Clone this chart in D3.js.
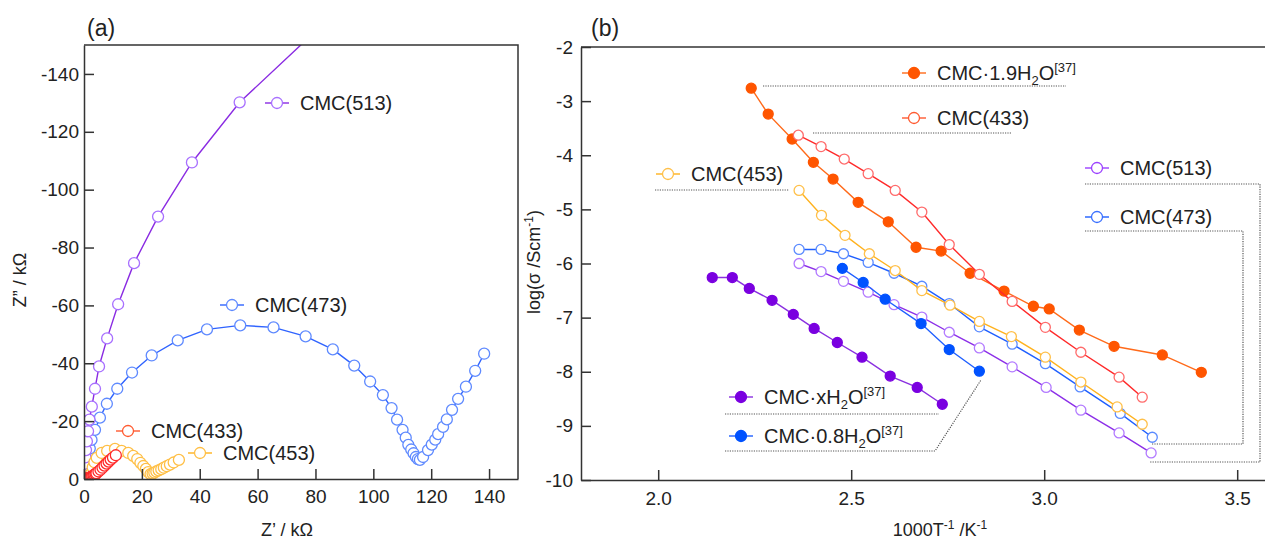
<!DOCTYPE html>
<html>
<head>
<meta charset="utf-8">
<script src="https://cdn.jsdelivr.net/npm/d3@7"></script>
<style>
  body { margin: 0; background: #fff; }
  text { font-family: "Liberation Sans", Arial, sans-serif; fill: #222; }
  .axis path, .axis line { stroke: #333; stroke-width: 1.5; }
  .axis text { font-size: 19px; fill: #222; }
</style>
</head>
<body>
<div id="chart"></div>
<script>
// ---- panel (a) : Nyquist plots, Z' and Z'' in kOhm ----
var zRe513 = [0.6, 0.4, 0.3, 0.3, 0.4, 0.5, 0.7, 1.0, 1.4, 1.9, 2.7, 3.8, 5.2, 8.0, 11.8, 17.3, 25.6, 37.3, 53.8, 77.6];
var zIm513 = [-0.3, -0.9, -2.0, -3.5, -5.3, -7.5, -10.0, -13.0, -16.5, -20.5, -25.0, -31.2, -38.9, -48.6, -60.4, -74.6, -90.7, -109.4, -130.2, -152.5];

var zRe473 = [1.0, 0.9, 1.0, 1.2, 1.5, 2.0, 2.6, 3.8, 5.5, 7.9, 11.5, 16.6, 23.4, 32.4, 42.5, 54.0, 65.5, 76.6, 86.0, 93.4, 98.9, 103.3, 106.3, 108.2, 110.1, 111.2, 112.1, 113.1, 113.9, 114.7, 115.4, 116.1, 117.2, 118.9, 120.2, 121.4, 122.4, 124.1, 125.4, 127.2, 129.3, 132.0, 135.2, 138.3];
var zIm473 = [-0.9, -2.0, -3.5, -5.5, -7.8, -10.5, -13.5, -17.0, -21.2, -26.0, -31.2, -36.8, -42.7, -47.9, -51.7, -53.1, -52.4, -49.3, -44.8, -39.2, -33.7, -29.0, -24.5, -20.5, -17.0, -14.3, -11.8, -10.2, -8.9, -7.6, -6.9, -6.6, -7.6, -10.0, -11.9, -13.6, -15.5, -18.0, -20.6, -23.9, -27.7, -31.9, -37.4, -43.3];

var zRe453 = [1.6, 2.0, 2.5, 3.0, 3.6, 4.4, 6.1, 8.0, 10.7, 13.0, 15.3, 17.0, 18.4, 19.5, 20.5, 21.4, 22.2, 23.0, 23.7, 24.3, 25.0, 25.8, 26.7, 27.6, 28.6, 29.7, 31.0, 32.8];
var zIm453 = [-0.2, -0.8, -2.0, -4.0, -5.8, -7.3, -9.0, -9.7, -10.4, -9.7, -9.0, -8.0, -6.9, -5.6, -4.5, -3.5, -2.4, -1.7, -1.9, -2.2, -2.6, -3.0, -3.4, -3.9, -4.4, -5.0, -5.7, -6.6];

var zRe433 = [0.8, 1.1, 1.5, 1.9, 2.2, 2.6, 2.9, 3.3, 3.6, 4.0, 4.3, 5.0, 5.7, 6.4, 7.1, 7.8, 8.5, 9.2, 10.0, 11.0];
var zIm433 = [-0.1, -0.2, -0.3, -0.4, -0.6, -0.8, -1.0, -1.2, -1.5, -1.7, -2.0, -2.6, -3.2, -3.9, -4.6, -5.3, -6.0, -6.7, -7.4, -8.2];

var zReTicks = [0, 20, 40, 60, 80, 100, 120, 140];
var zImTicks = [0, -20, -40, -60, -80, -100, -120, -140];

// ---- panel (b) : Arrhenius plots, 1000/T and log(sigma) ----
var invT19 = [2.241, 2.285, 2.347, 2.402, 2.453, 2.518, 2.596, 2.668, 2.733, 2.808, 2.896, 2.972, 3.013, 3.091, 3.181, 3.306, 3.407];
var logS19 = [-2.76, -3.24, -3.70, -4.13, -4.44, -4.87, -5.23, -5.70, -5.77, -6.18, -6.51, -6.79, -6.84, -7.23, -7.53, -7.69, -8.01];

var invT433 = [2.363, 2.422, 2.482, 2.544, 2.614, 2.683, 2.754, 2.832, 2.917, 3.003, 3.095, 3.194, 3.254];
var logS433 = [-3.63, -3.84, -4.07, -4.34, -4.65, -5.05, -5.65, -6.20, -6.70, -7.18, -7.64, -8.10, -8.47];

var invT453 = [2.365, 2.423, 2.484, 2.547, 2.614, 2.683, 2.756, 2.832, 2.915, 3.003, 3.095, 3.189, 3.254];
var logS453 = [-4.65, -5.11, -5.48, -5.82, -6.13, -6.50, -6.77, -7.07, -7.35, -7.73, -8.19, -8.65, -8.97];

var invT473 = [2.365, 2.422, 2.480, 2.544, 2.611, 2.683, 2.754, 2.832, 2.917, 3.003, 3.093, 3.197, 3.280];
var logS473 = [-5.74, -5.74, -5.82, -5.98, -6.18, -6.42, -6.74, -7.17, -7.49, -7.85, -8.28, -8.77, -9.21];

var invT513 = [2.365, 2.422, 2.480, 2.544, 2.611, 2.683, 2.754, 2.832, 2.917, 3.005, 3.095, 3.194, 3.277];
var logS513 = [-6.00, -6.15, -6.33, -6.53, -6.76, -6.99, -7.27, -7.56, -7.91, -8.29, -8.71, -9.13, -9.50];

var invT08 = [2.477, 2.531, 2.588, 2.681, 2.754, 2.832];
var logS08 = [-6.09, -6.35, -6.66, -7.11, -7.59, -7.99];

var invTx = [2.140, 2.192, 2.236, 2.295, 2.350, 2.404, 2.464, 2.528, 2.601, 2.671, 2.736];
var logSx = [-6.26, -6.26, -6.46, -6.68, -6.94, -7.20, -7.46, -7.73, -8.08, -8.29, -8.60];

var invTTicks = [2.0, 2.5, 3.0, 3.5];
var logSTicks = [-2, -3, -4, -5, -6, -7, -8, -9, -10];

function zip(xs, ys) {
    return xs.map(function(x, i) { return [x, ys[i]]; });
}

var width = 1265;
var height = 541;

var svg = d3.select("#chart").append("svg")
    .attr("width", width)
    .attr("height", height);

// ========== panel (a) ==========
var aLeft = 84, aRight = 518, aTop = 45, aBottom = 479;

var xA = d3.scaleLinear().domain([0, 150]).range([aLeft, aRight]);
var yA = d3.scaleLinear().domain([0, -150]).range([aBottom, aTop]);

svg.append("clipPath").attr("id", "clipA")
    .append("rect")
        .attr("x", aLeft).attr("y", aTop)
        .attr("width", aRight - aLeft).attr("height", aBottom - aTop);

var seriesA = [
    { name: "CMC(473)", pts: zip(zRe473, zIm473), line: "#2f63ff", mark: "#5f8aff" },
    { name: "CMC(513)", pts: zip(zRe513, zIm513), line: "#8a2be2", mark: "#a870ff" },
    { name: "CMC(453)", pts: zip(zRe453, zIm453), line: "#ffb21e", mark: "#ffbf45" },
    { name: "CMC(433)", pts: zip(zRe433, zIm433), line: "#ff2020", mark: "#ff2a2a" }
];

var lineA = d3.line()
    .x(function(d) { return xA(d[0]); })
    .y(function(d) { return yA(d[1]); });

var plotA = svg.append("g").attr("clip-path", "url(#clipA)");

seriesA.forEach(function(s) {
    plotA.append("path")
        .attr("d", lineA(s.pts))
        .attr("fill", "none")
        .attr("stroke", s.line)
        .attr("stroke-width", 1.4);
    plotA.selectAll(null)
        .data(s.pts)
        .enter()
        .append("circle")
            .attr("cx", function(d) { return xA(d[0]); })
            .attr("cy", function(d) { return yA(d[1]); })
            .attr("r", 5.5)
            .attr("fill", "white")
            .attr("stroke", s.mark)
            .attr("stroke-width", 1.3);
});

svg.append("g")
    .classed("axis", true)
    .attr("transform", "translate(0," + aBottom + ")")
    .call(d3.axisBottom(xA).tickValues(zReTicks).tickSizeInner(-10).tickSizeOuter(0).tickPadding(11)
        .tickFormat(function(d) { return String(d); }));

svg.append("g")
    .classed("axis", true)
    .attr("transform", "translate(" + aLeft + ",0)")
    .call(d3.axisLeft(yA).tickValues(zImTicks).tickSizeInner(-10).tickSizeOuter(0).tickPadding(5)
        .tickFormat(function(d) { return String(d); }));

svg.append("path")
    .attr("d", "M" + aLeft + "," + aTop + "H" + aRight + "V" + aBottom)
    .attr("fill", "none").attr("stroke", "#333").attr("stroke-width", 1.5);

svg.append("text").attr("x", 87).attr("y", 36).style("font-size", "23px").text("(a)");

svg.append("text")
    .attr("x", 287).attr("y", 536)
    .attr("text-anchor", "middle")
    .style("font-size", "18px")
    .text("Z\u2019 / k\u03A9");

svg.append("text")
    .attr("transform", "translate(26,280) rotate(-90)")
    .attr("text-anchor", "middle")
    .style("font-size", "18px")
    .text("Z\u201D / k\u03A9");

// legends panel (a)
var legendA = [
    { name: "CMC(513)", mx: 277, my: 103, line: "#8a2be2", mark: "#a870ff" },
    { name: "CMC(473)", mx: 232, my: 305, line: "#2f63ff", mark: "#5f8aff" },
    { name: "CMC(433)", mx: 128, my: 431, line: "#ff5a30", mark: "#ff5a30" },
    { name: "CMC(453)", mx: 200, my: 453, line: "#ffb21e", mark: "#ffbf45" }
];

legendA.forEach(function(l) {
    svg.append("line")
        .attr("x1", l.mx - 12).attr("x2", l.mx + 12)
        .attr("y1", l.my).attr("y2", l.my)
        .attr("stroke", l.line).attr("stroke-width", 1.4);
    svg.append("circle")
        .attr("cx", l.mx).attr("cy", l.my).attr("r", 5.5)
        .attr("fill", "white").attr("stroke", l.mark).attr("stroke-width", 1.3);
    svg.append("text")
        .attr("x", l.mx + 23).attr("y", l.my + 7)
        .style("font-size", "20px")
        .text(l.name);
});

// ========== panel (b) ==========
var bLeft = 581, bTop = 47, bBottom = 480;

var xB = d3.scaleLinear().domain([1.8, 3.6]).range([bLeft, bLeft + 1.8 * 386]);
var yB = d3.scaleLinear().domain([-10, -2]).range([bBottom, bTop]);

var lineB = d3.line()
    .x(function(d) { return xB(d[0]); })
    .y(function(d) { return yB(d[1]); });

var seriesB = [
    { pts: zip(invTx, logSx), line: "#8a30e0", mark: "#7a00e0", filled: true },
    { pts: zip(invT513, logS513), line: "#8c2fe8", mark: "#b27aff", filled: false },
    { pts: zip(invT08, logS08), line: "#1f5fff", mark: "#0052ff", filled: true },
    { pts: zip(invT473, logS473), line: "#1f5fff", mark: "#5b8bff", filled: false },
    { pts: zip(invT453, logS453), line: "#ffb21e", mark: "#ffc04a", filled: false },
    { pts: zip(invT19, logS19), line: "#ff6a1a", mark: "#ff5500", filled: true },
    { pts: zip(invT433, logS433), line: "#ff2a2a", mark: "#ff6b6b", filled: false }
];

seriesB.forEach(function(s) {
    svg.append("path")
        .attr("d", lineB(s.pts))
        .attr("fill", "none")
        .attr("stroke", s.line)
        .attr("stroke-width", 1.4);
    svg.selectAll(null)
        .data(s.pts)
        .enter()
        .append("circle")
            .attr("cx", function(d) { return xB(d[0]); })
            .attr("cy", function(d) { return yB(d[1]); })
            .attr("r", 5)
            .attr("fill", s.filled ? s.mark : "white")
            .attr("stroke", s.mark)
            .attr("stroke-width", 1.3);
});

svg.append("g")
    .classed("axis", true)
    .attr("transform", "translate(0," + bBottom + ")")
    .call(d3.axisBottom(xB).tickValues(invTTicks).tickSizeInner(-10).tickSizeOuter(0).tickPadding(12)
        .tickFormat(d3.format(".1f")));

svg.append("g")
    .classed("axis", true)
    .attr("transform", "translate(" + bLeft + ",0)")
    .call(d3.axisLeft(yB).tickValues(logSTicks).tickSizeInner(-10).tickSizeOuter(0).tickPadding(8)
        .tickFormat(function(d) { return String(d); }));

svg.append("line")
    .attr("x1", bLeft).attr("x2", width).attr("y1", bTop).attr("y2", bTop)
    .attr("stroke", "#333").attr("stroke-width", 1.5);

svg.append("text").attr("x", 591).attr("y", 36).style("font-size", "23px").text("(b)");

var xt = svg.append("text")
    .attr("x", 940).attr("y", 536)
    .attr("text-anchor", "middle")
    .style("font-size", "18px");
xt.append("tspan").text("1000T");
xt.append("tspan").attr("dy", -7).style("font-size", "12px").text("-1");
xt.append("tspan").attr("dy", 7).text(" /K");
xt.append("tspan").attr("dy", -7).style("font-size", "12px").text("-1");

var yt = svg.append("text")
    .attr("transform", "translate(540,262) rotate(-90)")
    .attr("text-anchor", "middle")
    .style("font-size", "18px");
yt.append("tspan").text("log(\u03C3 /Scm");
yt.append("tspan").attr("dy", -7).style("font-size", "12px").text("-1");
yt.append("tspan").attr("dy", 7).text(")");

// leader lines (dotted)
var leaders = [
    [[763, 86], [1066, 86]],
    [[813, 133], [1011, 133]],
    [[655, 190], [789, 190]],
    [[1085, 184], [1260, 184], [1260, 462], [1149, 462]],
    [[1085, 231], [1243, 231], [1243, 444], [1152, 444]],
    [[725, 414], [939, 414]],
    [[725, 451], [935, 451], [981, 380]]
];

leaders.forEach(function(p) {
    svg.append("path")
        .attr("d", d3.line()(p))
        .attr("fill", "none")
        .attr("stroke", "#555")
        .attr("stroke-width", 1.2)
        .attr("stroke-dasharray", "1.2,1.2");
});

// legends panel (b)
var legendB = [
    { base: "CMC\u00B71.9H", sub: "2", after: "O", sup: "[37]", mx: 914, my: 73, line: "#ff6a1a", mark: "#ff5500", filled: true },
    { base: "CMC(433)", mx: 914, my: 118, line: "#ff5a30", mark: "#ff5a30", filled: false },
    { base: "CMC(453)", mx: 668, my: 174, line: "#ffb21e", mark: "#ffc04a", filled: false },
    { base: "CMC(513)", mx: 1097, my: 168, line: "#9b40ff", mark: "#9b40ff", filled: false },
    { base: "CMC(473)", mx: 1097, my: 217, line: "#1f5fff", mark: "#3a70ff", filled: false },
    { base: "CMC\u00B7xH", sub: "2", after: "O", sup: "[37]", mx: 741, my: 397, line: "#8a30e0", mark: "#7a00e0", filled: true },
    { base: "CMC\u00B70.8H", sub: "2", after: "O", sup: "[37]", mx: 741, my: 436, line: "#1f5fff", mark: "#0052ff", filled: true }
];

legendB.forEach(function(l) {
    svg.append("line")
        .attr("x1", l.mx - 12).attr("x2", l.mx + 12)
        .attr("y1", l.my).attr("y2", l.my)
        .attr("stroke", l.line).attr("stroke-width", 1.4);
    svg.append("circle")
        .attr("cx", l.mx).attr("cy", l.my).attr("r", 5.5)
        .attr("fill", l.filled ? l.mark : "white")
        .attr("stroke", l.mark).attr("stroke-width", 1.3);
    var t = svg.append("text")
        .attr("x", l.mx + 23).attr("y", l.my + 7)
        .style("font-size", "20px");
    t.append("tspan").text(l.base);
    if (l.sub) {
        t.append("tspan").attr("dy", 5).style("font-size", "13px").text(l.sub);
        t.append("tspan").attr("dy", -5).text(l.after);
        t.append("tspan").attr("dy", -8).style("font-size", "13px").text(l.sup);
    }
});
</script>
</body>
</html>
